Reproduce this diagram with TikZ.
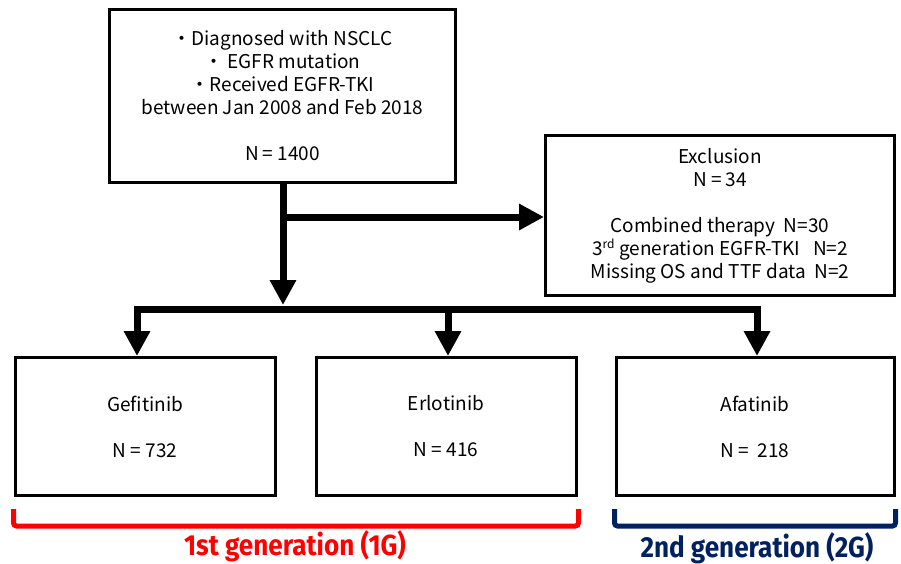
\documentclass[tikz,border=0pt]{standalone}
\usepackage{fontspec}
\setmainfont{Noto Sans CJK JP}
\newfontfamily\genfont[FakeStretch=0.9]{Fira Sans}
\usepackage{tikz}
\usetikzlibrary{arrows.meta,positioning}
\definecolor{gennavy}{RGB}{0,32,96}
\definecolor{genred}{RGB}{255,0,0}

\begin{document}
\begin{tikzpicture}[x=1pt,y=-1pt,
  box/.style={draw,line width=3pt,align=center,inner sep=0pt,
    font=\fontsize{19}{23}\selectfont},
  flow/.style={line width=7pt,line join=miter,
    -{Triangle[length=25pt,width=25pt]}},
  bracket/.style={line width=5pt,rounded corners=3pt},
  genlabel/.style={font=\genfont\bfseries\fontsize{29}{30}\selectfont}]
\newcommand*{\eqs}{\ =\ }
\useasboundingbox (0,0) rectangle (901,564);

% boxes
\node[box,minimum width=346,minimum height=173] (cohort) at (282.5,96)
  {・Diagnosed with NSCLC\\・ EGFR mutation\\・Received EGFR-TKI\\
   between Jan 2008 and Feb 2018\\[23pt]N\eqs 1400};
\node[box,minimum width=349,minimum height=160] (excl) at (720,215.5)
  {Exclusion\\N\eqs 34\\[23pt]Combined therapy\ \ N=30\\
   3\textsuperscript{\fontsize{12}{12}\selectfont rd} generation EGFR-TKI\ \ \ N=2\\
   Missing OS and TTF data\ \ N=2};
\foreach \name/\x/\w/\drug/\n in {gef/145/260/Gefitinib/732,
    erl/446/260/Erlotinib/416, afa/755/278/Afatinib/\ 218}
  \node[box,minimum width=\w,minimum height=138] (\name) at (\x,426.5)
    {\drug\\[23pt]N\eqs\n};

% connectors
\coordinate (branch) at (283,217);
\coordinate (split) at (283,305);
\coordinate (left) at (137,309);
\coordinate (mid) at (448,309);
\coordinate (right) at (757,309);
\draw[line width=7pt] (cohort.south -| branch) -- (branch);
\draw[flow] (branch) -- (split);
\draw[flow] (branch) -- (excl.west |- branch);
\draw[flow,{Triangle[length=25pt,width=25pt]}-{Triangle[length=25pt,width=25pt]}]
  (gef.north -| left) |- (right) -- (afa.north -| right);
\draw[flow] (mid) -- (erl.north -| mid);

% generations
\draw[bracket,genred] ([yshift=-12pt]gef.south west) -- ++(0,17) -| ([yshift=-12pt,xshift=1pt]erl.south east);
\draw[bracket,gennavy] ([yshift=-12pt]afa.south west) -- ++(0,17) -| ([yshift=-12pt]afa.south east);
\node[genlabel,text=genred] (first) at (295,546) {1st generation (1G)};
\node[genlabel,text=gennavy] (second) at (757,548) {2nd generation (2G)};
\end{tikzpicture}
\end{document}
